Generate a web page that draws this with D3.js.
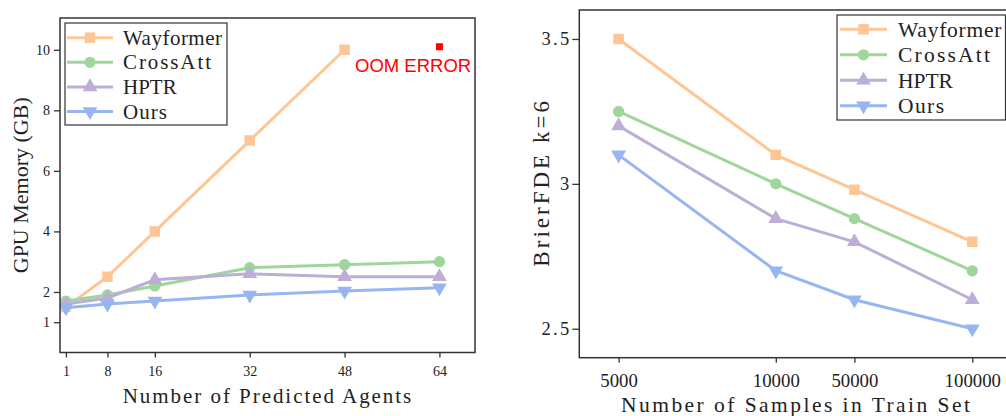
<!DOCTYPE html>
<html>
<head>
<meta charset="utf-8">
<script src="https://cdn.jsdelivr.net/npm/d3@7"></script>
<style>
  body { margin: 0; background: #fff; }
  svg { display: block; }
</style>
</head>
<body>
<div id="chart"></div>
<script>
// series names, shared by both panels
var methods = ['Wayformer', 'CrossAtt', 'HPTR', 'Ours'];

// left panel: GPU memory vs number of predicted agents
var agents = [1, 8, 16, 32, 48, 64];
var memWayformer = [1.5, 2.5, 4, 7, 10];
var memCrossAtt = [1.7, 1.9, 2.2, 2.8, 2.9, 3.0];
var memHPTR = [1.6, 1.8, 2.4, 2.6, 2.5, 2.5];
var memOurs = [1.48, 1.6, 1.7, 1.9, 2.03, 2.14];
var memTicks = [1, 2, 4, 6, 8, 10];
var oomPoint = [64, 10.1];

// right panel: BrierFDE vs train set size
var samples = ['5000', '10000', '50000', '100000'];
var sampleSlots = [0, 2, 3, 4.5];
var fdeWayformer = [3.5, 3.1, 2.98, 2.8];
var fdeCrossAtt = [3.25, 3.0, 2.88, 2.7];
var fdeHPTR = [3.2, 2.88, 2.8, 2.6];
var fdeOurs = [3.1, 2.7, 2.6, 2.5];
var fdeTicks = [2.5, 3, 3.5];

var colors = ['#fec694', '#9fd69b', '#bdaed8', '#97b6f1'];
var shapes = ['square', 'circle', 'up', 'down'];

var serif = '"Liberation Serif", "DejaVu Serif", serif';

var svg = d3.select('#chart').append('svg')
	.attr('width', 1006)
	.attr('height', 416);

// the original font is a half-width (monospaced) serif; spread a serif face to that pitch,
// but never squeeze a word that is already wider
function pitch(sel, charW) {
	sel.each(function() {
		var t = d3.select(this);
		var target = t.text().length * charW;
		if (this.getComputedTextLength() < target)
			t.attr('textLength', target).attr('lengthAdjust', 'spacing');
	});
}

function marker(sel, shape, color) {
	var type = d3.symbolSquare, size = 110, rot = 0;
	if (shape == 'circle') { type = d3.symbolCircle; size = 100; }
	if (shape == 'up') { type = d3.symbolTriangle; size = 95; }
	if (shape == 'down') { type = d3.symbolTriangle; size = 95; rot = 180; }
	sel.attr('d', d3.symbol().type(type).size(size))
		.attr('fill', color);
	return rot;
}

function drawPanel(p) {
	var g = svg.append('g');
	var x = p.x, y = p.y;

	var clipId = 'clip' + p.id;
	svg.append('clipPath').attr('id', clipId).append('rect')
		.attr('x', x.range()[0]).attr('y', y.range()[1])
		.attr('width', x.range()[1] - x.range()[0])
		.attr('height', y.range()[0] - y.range()[1]);

	var plot = g.append('g').attr('clip-path', 'url(#' + clipId + ')');

	p.series.forEach(function(vals, k) {
		var pts = vals.map(function(v, i) { return [p.xs[i], v]; });
		plot.append('path')
			.datum(pts)
			.attr('fill', 'none')
			.attr('stroke', colors[k])
			.attr('stroke-width', 3)
			.attr('d', d3.line().x(function(d) { return x(d[0]); }).y(function(d) { return y(d[1]); }));
		pts.forEach(function(d) {
			var m = plot.append('path');
			var rot = marker(m, shapes[k], colors[k]);
			m.attr('transform', 'translate(' + x(d[0]) + ',' + y(d[1]) + ') rotate(' + rot + ')');
		});
	});

	// axes
	var xAxis = d3.axisBottom(x).tickValues(p.xTicks).tickFormat(p.xFormat).tickSize(5).tickPadding(p.xPad);
	var yAxis = d3.axisLeft(y).tickValues(p.yTicks).tickFormat(p.yFormat).tickSize(p.yTick).tickPadding(p.yPad);

	var gx = g.append('g').attr('transform', 'translate(0,' + y.range()[0] + ')').call(xAxis);
	var gy = g.append('g').attr('transform', 'translate(' + x.range()[0] + ',0)').call(yAxis);
	[gx, gy].forEach(function(a) {
		a.select('.domain').remove();
		a.selectAll('line').attr('stroke', '#333').attr('stroke-width', 1.3);
		a.selectAll('text').attr('fill', '#222').style('font-family', serif);
	});
	gx.selectAll('text').style('font-size', p.xTickSize + 'px').call(pitch, p.xTickSize / 2);
	gy.selectAll('text').style('font-size', p.yTickSize + 'px').call(pitch, p.yTickSize / 2);

	// frame
	g.append('rect')
		.attr('x', x.range()[0]).attr('y', y.range()[1])
		.attr('width', x.range()[1] - x.range()[0])
		.attr('height', y.range()[0] - y.range()[1])
		.attr('fill', 'none')
		.attr('stroke', '#333')
		.attr('stroke-width', 1.5);

	// axis titles
	g.append('text')
		.attr('x', p.xLabelX)
		.attr('y', p.xLabelY)
		.attr('text-anchor', 'middle')
		.style('font-family', serif)
		.style('font-size', p.xLabelSize + 'px')
		.attr('fill', '#222')
		.text(p.xLabel)
		.call(pitch, p.xLabelW);

	var yl = g.append('text')
		.attr('transform', 'translate(' + p.yLabelX + ',' + ((y.range()[0] + y.range()[1]) / 2) + ') rotate(-90)')
		.attr('text-anchor', 'middle')
		.style('font-family', serif)
		.style('font-size', p.yLabelSize + 'px')
		.attr('fill', '#222')
		.text(p.yLabel);
	if (p.yLabelW) yl.call(pitch, p.yLabelW);

	// legend
	var L = p.legend;
	var lg = g.append('g').attr('transform', 'translate(' + L.x + ',' + L.y + ')');
	lg.append('rect')
		.attr('width', L.w).attr('height', L.h)
		.attr('fill', '#fff')
		.attr('stroke', '#333')
		.attr('stroke-width', 1.2);
	methods.forEach(function(name, k) {
		var cy = L.first + k * L.step;
		lg.append('line')
			.attr('x1', L.lineX0).attr('x2', L.lineX1)
			.attr('y1', cy).attr('y2', cy)
			.attr('stroke', colors[k]).attr('stroke-width', 3);
		var m = lg.append('path');
		var rot = marker(m, shapes[k], colors[k]);
		m.attr('transform', 'translate(' + ((L.lineX0 + L.lineX1) / 2) + ',' + cy + ') rotate(' + rot + ')');
		lg.append('text')
			.attr('x', L.textX).attr('y', cy)
			.attr('dy', '0.34em')
			.style('font-family', serif)
			.style('font-size', L.size + 'px')
			.attr('fill', '#222')
			.text(name)
			.call(pitch, L.charW);
	});
	return g;
}

var lx = d3.scaleLinear().domain([0, 70]).range([60, 475]);
var ly = d3.scaleLinear().domain([0, 11.05]).range([352.5, 18]);

var left = drawPanel({
	id: 'L',
	x: lx,
	y: ly,
	xs: agents,
	series: [memWayformer, memCrossAtt, memHPTR, memOurs],
	xTicks: agents, xFormat: d3.format('d'), xTickSize: 14, xPad: 8.5,
	yTicks: memTicks, yFormat: d3.format('d'), yTickSize: 14, yTick: 6, yPad: 4,
	xLabel: 'Number of Predicted Agents', xLabelX: 267, xLabelY: 402.5, xLabelSize: 21, xLabelW: 11.1,
	yLabel: 'GPU Memory (GB)', yLabelX: 28, yLabelSize: 22,
	legend: { x: 65, y: 23, w: 162, h: 102, first: 14.7, step: 24.6, lineX0: 2, lineX1: 48, textX: 58, size: 21, charW: 11 }
});

// OOM annotation
left.append('rect')
	.attr('x', lx(oomPoint[0]) - 3.5).attr('y', ly(oomPoint[1]) - 3.5)
	.attr('width', 7).attr('height', 7)
	.attr('fill', '#ff0000');
left.append('text')
	.attr('x', 355).attr('y', 72)
	.style('font-family', '"Liberation Sans", Arial, sans-serif')
	.style('font-size', '18.5px')
	.attr('fill', '#ff0000')
	.text('OOM ERROR');

drawPanel({
	id: 'R',
	x: d3.scaleLinear().domain([-0.5, 5]).range([579.3, 1011.6]),
	y: d3.scaleLinear().domain([2.4, 3.6]).range([357.7, 10]),
	xs: sampleSlots,
	series: [fdeWayformer, fdeCrossAtt, fdeHPTR, fdeOurs],
	xTicks: sampleSlots, xFormat: function(d, i) { return samples[i]; }, xTickSize: 18.8, xPad: 10.5,
	yTicks: fdeTicks, yFormat: function(d) { return String(d); }, yTickSize: 18.5, yTick: 7, yPad: 3,
	xLabel: 'Number of Samples in Train Set', xLabelX: 795.5, xLabelY: 411.5, xLabelSize: 21.5, xLabelW: 11.63,
	yLabel: 'BrierFDE k=6', yLabelX: 549, yLabelSize: 23, yLabelW: 13.8,
	legend: { x: 837, y: 15, w: 168.5, h: 105, first: 14.3, step: 25.5, lineX0: 3, lineX1: 50, textX: 61, size: 21.5, charW: 11.5 }
});
</script>
</body>
</html>
